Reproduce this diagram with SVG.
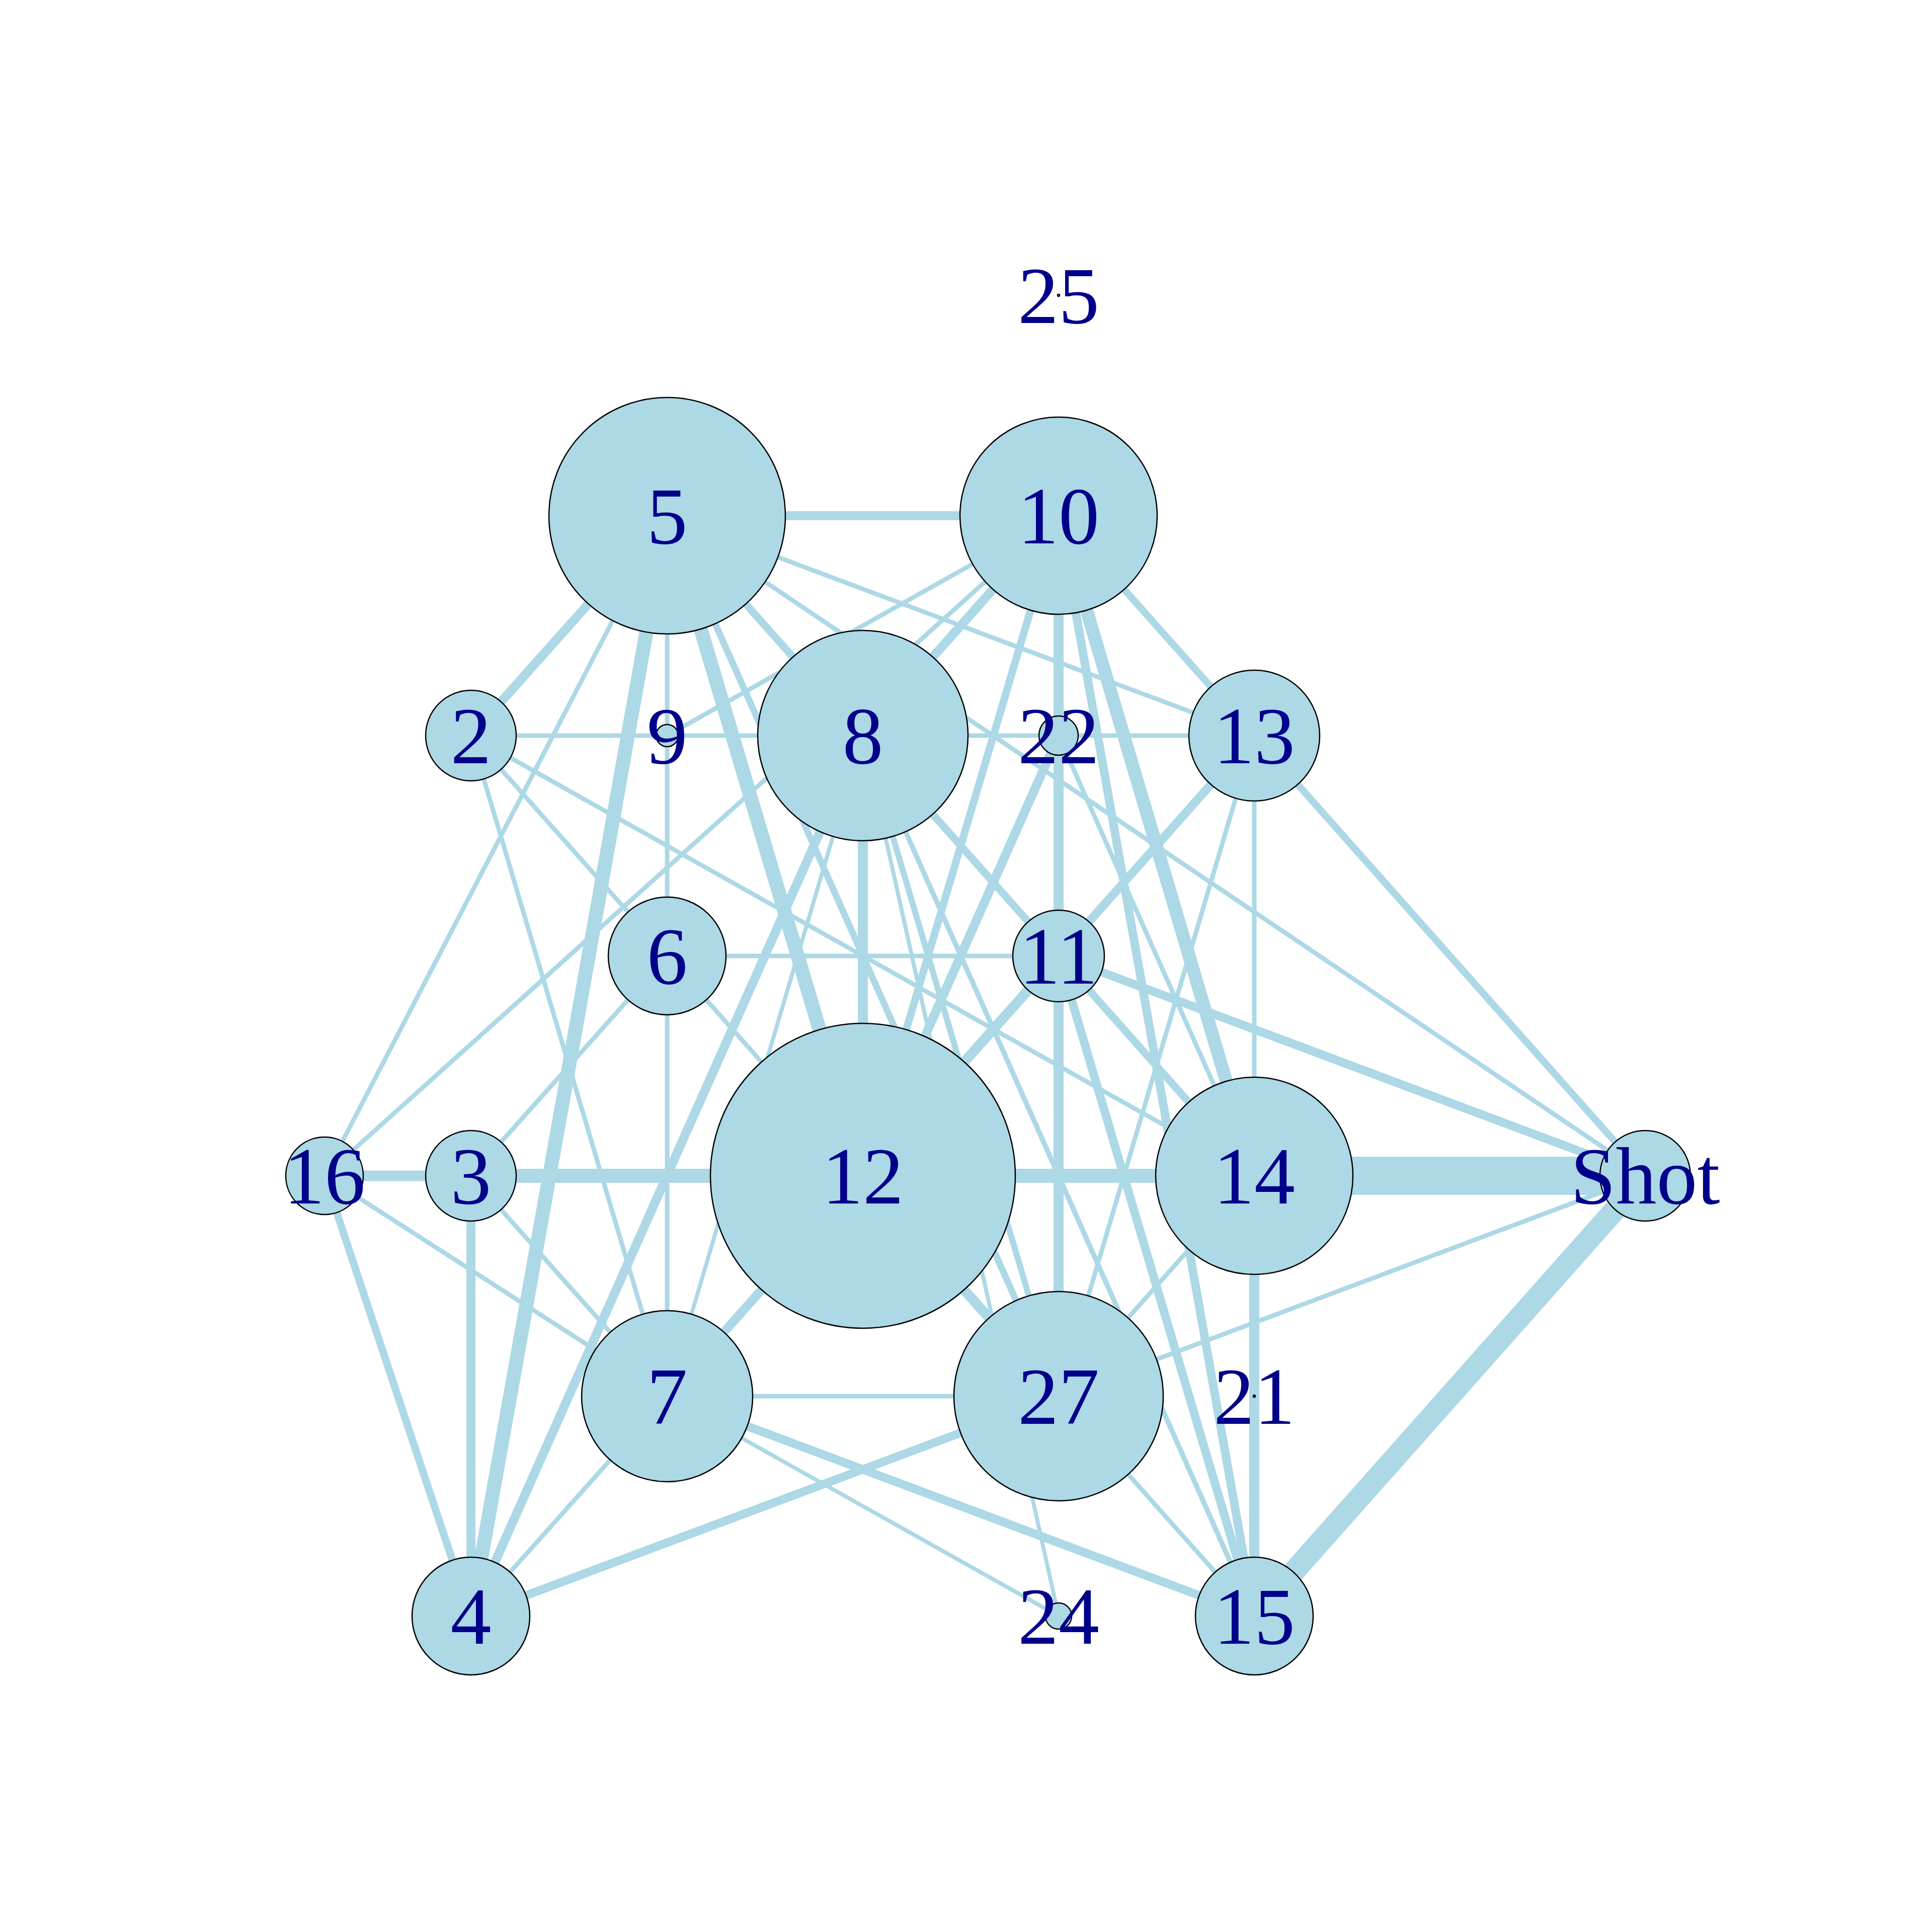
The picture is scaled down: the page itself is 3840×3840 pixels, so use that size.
<svg xmlns="http://www.w3.org/2000/svg" width="3840" height="3840" viewBox="0 0 3840 3840">
<style>
.e{stroke:#ADD8E6;stroke-linecap:round;fill:none}
.n{fill:#ADD8E6;stroke:#000;stroke-width:2.5}
.l{font-family:"Liberation Serif","Times New Roman",serif;font-size:162px;fill:#00008B;text-anchor:middle}
</style>
<rect width="3840" height="3840" fill="#fff"/>
<g id="edges">
<line class="e" x1="1326" y1="1025" x2="2104" y2="1025" stroke-width="18"/>
<line class="e" x1="1326" y1="1025" x2="936" y2="1462" stroke-width="18"/>
<line class="e" x1="1326" y1="1025" x2="645" y2="2337" stroke-width="9"/>
<line class="e" x1="1326" y1="1025" x2="936" y2="3212" stroke-width="28"/>
<line class="e" x1="1326" y1="1025" x2="1326" y2="1462" stroke-width="9"/>
<line class="e" x1="1326" y1="1462" x2="1326" y2="1900" stroke-width="9"/>
<line class="e" x1="1326" y1="1900" x2="1326" y2="2775" stroke-width="9"/>
<line class="e" x1="1326" y1="1025" x2="1715" y2="2337" stroke-width="28"/>
<line class="e" x1="1326" y1="1025" x2="2104" y2="2775" stroke-width="13"/>
<line class="e" x1="1326" y1="1025" x2="1715" y2="1462" stroke-width="15"/>
<line class="e" x1="1326" y1="1025" x2="3270" y2="2337" stroke-width="9"/>
<line class="e" x1="1326" y1="1025" x2="2493" y2="1462" stroke-width="9"/>
<line class="e" x1="2104" y1="1025" x2="1326" y2="1462" stroke-width="9"/>
<line class="e" x1="2104" y1="1025" x2="645" y2="2337" stroke-width="9"/>
<line class="e" x1="2104" y1="1025" x2="1715" y2="1462" stroke-width="18"/>
<line class="e" x1="2104" y1="1025" x2="1715" y2="2337" stroke-width="15"/>
<line class="e" x1="2104" y1="1025" x2="2104" y2="1462" stroke-width="20"/>
<line class="e" x1="2104" y1="1462" x2="2104" y2="1900" stroke-width="20"/>
<line class="e" x1="2104" y1="1900" x2="2104" y2="2775" stroke-width="20"/>
<line class="e" x1="2104" y1="1025" x2="2493" y2="2337" stroke-width="26"/>
<line class="e" x1="2104" y1="1025" x2="2493" y2="3212" stroke-width="17"/>
<line class="e" x1="2104" y1="1025" x2="2493" y2="1462" stroke-width="14"/>
<line class="e" x1="936" y1="1462" x2="1326" y2="1462" stroke-width="9"/>
<line class="e" x1="1326" y1="1462" x2="1715" y2="1462" stroke-width="9"/>
<line class="e" x1="1715" y1="1462" x2="2104" y2="1462" stroke-width="9"/>
<line class="e" x1="2104" y1="1462" x2="2493" y2="1462" stroke-width="9"/>
<line class="e" x1="936" y1="1462" x2="1326" y2="1900" stroke-width="9"/>
<line class="e" x1="1326" y1="1900" x2="1715" y2="2337" stroke-width="9"/>
<line class="e" x1="936" y1="1462" x2="2493" y2="2337" stroke-width="9"/>
<line class="e" x1="936" y1="1462" x2="1326" y2="2775" stroke-width="9"/>
<line class="e" x1="645" y1="2337" x2="936" y2="2337" stroke-width="21"/>
<line class="e" x1="645" y1="2337" x2="1326" y2="2775" stroke-width="9"/>
<line class="e" x1="645" y1="2337" x2="936" y2="3212" stroke-width="15"/>
<line class="e" x1="936" y1="2337" x2="1715" y2="2337" stroke-width="28"/>
<line class="e" x1="936" y1="2337" x2="1326" y2="1900" stroke-width="9"/>
<line class="e" x1="936" y1="2337" x2="936" y2="3212" stroke-width="18"/>
<line class="e" x1="936" y1="2337" x2="1326" y2="2775" stroke-width="9"/>
<line class="e" x1="1326" y1="1900" x2="2104" y2="1900" stroke-width="9"/>
<line class="e" x1="1715" y1="1462" x2="1715" y2="2337" stroke-width="20"/>
<line class="e" x1="1715" y1="1462" x2="2104" y2="1900" stroke-width="15"/>
<line class="e" x1="1715" y1="1462" x2="2104" y2="2775" stroke-width="12"/>
<line class="e" x1="1715" y1="1462" x2="2493" y2="3212" stroke-width="10"/>
<line class="e" x1="1715" y1="1462" x2="2104" y2="3212" stroke-width="8"/>
<line class="e" x1="1715" y1="1462" x2="1326" y2="2775" stroke-width="8"/>
<line class="e" x1="936" y1="3212" x2="1715" y2="1462" stroke-width="18"/>
<line class="e" x1="2104" y1="1462" x2="1715" y2="2337" stroke-width="18"/>
<line class="e" x1="2104" y1="1462" x2="2493" y2="2337" stroke-width="9"/>
<line class="e" x1="2493" y1="1462" x2="2104" y2="1900" stroke-width="17"/>
<line class="e" x1="2493" y1="1462" x2="2104" y2="2775" stroke-width="9"/>
<line class="e" x1="2493" y1="1462" x2="2493" y2="2337" stroke-width="9"/>
<line class="e" x1="2493" y1="1462" x2="3270" y2="2337" stroke-width="14"/>
<line class="e" x1="2104" y1="1900" x2="3270" y2="2337" stroke-width="17"/>
<line class="e" x1="2104" y1="1900" x2="2493" y2="2337" stroke-width="15"/>
<line class="e" x1="2104" y1="1900" x2="2493" y2="3212" stroke-width="17"/>
<line class="e" x1="2104" y1="1900" x2="1715" y2="2337" stroke-width="20"/>
<line class="e" x1="1715" y1="2337" x2="2493" y2="2337" stroke-width="28"/>
<line class="e" x1="2493" y1="2337" x2="3270" y2="2337" stroke-width="76" stroke-linecap="butt"/>
<line class="e" x1="2493" y1="2337" x2="2493" y2="3212" stroke-width="20"/>
<line class="e" x1="2493" y1="2337" x2="2104" y2="2775" stroke-width="9"/>
<line class="e" x1="1715" y1="2337" x2="2104" y2="2775" stroke-width="20"/>
<line class="e" x1="1715" y1="2337" x2="1326" y2="2775" stroke-width="18"/>
<line class="e" x1="1326" y1="2775" x2="2104" y2="2775" stroke-width="9"/>
<line class="e" x1="936" y1="3212" x2="2104" y2="2775" stroke-width="17"/>
<line class="e" x1="2104" y1="2775" x2="3270" y2="2337" stroke-width="9"/>
<line class="e" x1="2104" y1="2775" x2="2493" y2="3212" stroke-width="9"/>
<line class="e" x1="1326" y1="2775" x2="2493" y2="3212" stroke-width="17"/>
<line class="e" x1="1326" y1="2775" x2="2104" y2="3212" stroke-width="8"/>
<line class="e" x1="936" y1="3212" x2="1326" y2="2775" stroke-width="9"/>
<line class="e" x1="2493" y1="3212" x2="3270" y2="2337" stroke-width="44"/>
</g>
<g id="node-5"><circle class="n" cx="1326" cy="1025" r="235"/></g>
<g id="node-10"><circle class="n" cx="2104" cy="1025" r="196"/></g>
<g id="node-25"><circle class="n" cx="2104" cy="587" r="2"/></g>
<g id="node-2"><circle class="n" cx="936" cy="1462" r="90"/></g>
<g id="node-9"><circle class="n" cx="1326" cy="1462" r="22"/></g>
<g id="node-8"><circle class="n" cx="1715" cy="1462" r="209"/></g>
<g id="node-22"><circle class="n" cx="2104" cy="1462" r="39"/></g>
<g id="node-13"><circle class="n" cx="2493" cy="1462" r="130"/></g>
<g id="node-6"><circle class="n" cx="1326" cy="1900" r="117"/></g>
<g id="node-11"><circle class="n" cx="2104" cy="1900" r="91"/></g>
<g id="node-16"><circle class="n" cx="645" cy="2337" r="77"/></g>
<g id="node-3"><circle class="n" cx="936" cy="2337" r="90"/></g>
<g id="node-12"><circle class="n" cx="1715" cy="2337" r="303"/></g>
<g id="node-14"><circle class="n" cx="2493" cy="2337" r="196"/></g>
<g id="node-Shot"><circle class="n" cx="3270" cy="2337" r="90"/></g>
<g id="node-7"><circle class="n" cx="1326" cy="2775" r="170"/></g>
<g id="node-27"><circle class="n" cx="2104" cy="2775" r="208"/></g>
<g id="node-21"><circle class="n" cx="2493" cy="2775" r="2"/></g>
<g id="node-4"><circle class="n" cx="936" cy="3212" r="117"/></g>
<g id="node-24"><circle class="n" cx="2104" cy="3212" r="26"/></g>
<g id="node-15"><circle class="n" cx="2493" cy="3212" r="117"/></g>
<g id="labels">
<text class="l" x="1326" y="1080">5</text>
<text class="l" x="2104" y="1080">10</text>
<text class="l" x="2104" y="642">25</text>
<text class="l" x="936" y="1517">2</text>
<text class="l" x="1326" y="1517">9</text>
<text class="l" x="1715" y="1517">8</text>
<text class="l" x="2104" y="1517">22</text>
<text class="l" x="2493" y="1517">13</text>
<text class="l" x="1326" y="1955">6</text>
<text class="l" x="2104" y="1955">11</text>
<text class="l" x="645" y="2392">16</text>
<text class="l" x="936" y="2392">3</text>
<text class="l" x="1715" y="2392">12</text>
<text class="l" x="2493" y="2392">14</text>
<text class="l" x="3270" y="2392">Shot</text>
<text class="l" x="1326" y="2830">7</text>
<text class="l" x="2104" y="2830">27</text>
<text class="l" x="2493" y="2830">21</text>
<text class="l" x="936" y="3267">4</text>
<text class="l" x="2104" y="3267">24</text>
<text class="l" x="2493" y="3267">15</text>
</g>
</svg>
